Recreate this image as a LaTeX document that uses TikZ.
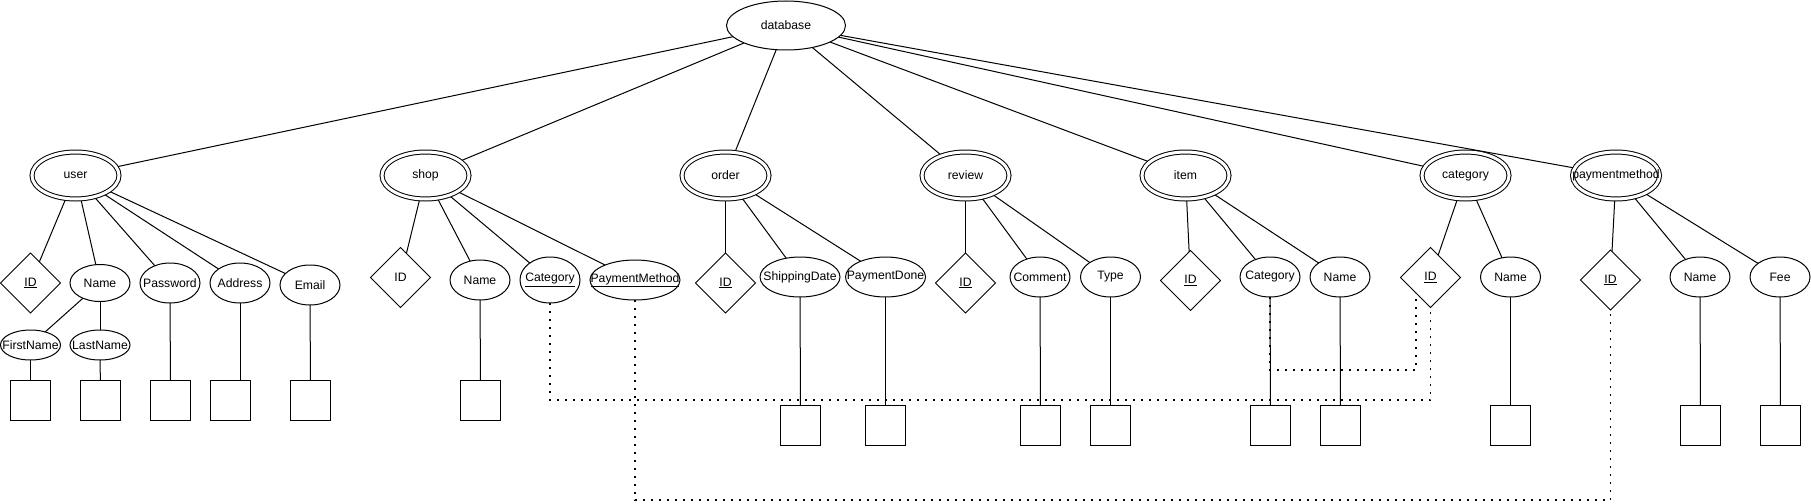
\documentclass[tikz,border=0pt]{standalone}
\usepackage{fontspec}
\setmainfont{Liberation Sans}
\usetikzlibrary{shapes.geometric,backgrounds}
\tikzset{
  every node/.style={font=\fontsize{12.2}{14}\selectfont},
  base/.style={draw, line width=1pt, fill=white, inner sep=0pt, outer sep=0pt},
  txt/.style={label={center:#1}},
  ent/.style={base, ellipse, double, double distance=3pt, minimum width=87pt, minimum height=47pt},
  attr/.style={base, ellipse},
  keyd/.style={base, diamond, minimum width=60pt, minimum height=60pt},
  valbox/.style={base, rectangle, minimum width=40pt, minimum height=40pt},
  conn/.style={line width=1pt},
  fk/.style={line width=1.6pt, dash pattern=on 1.6pt off 6.4pt},
}
\begin{document}
\begin{tikzpicture}[x=1pt,y=-1pt]
\useasboundingbox (0,0) rectangle (1811,503);
% database
\node[attr, minimum width=119pt, minimum height=49pt, txt=database] (db) at (786,25.5) {};
% entities
\node[ent, txt=user] (user) at (75.5,175.5) {};
\node[ent, txt=shop] (shop) at (425.5,175.5) {};
\node[ent, txt=order] (order) at (725.5,175.5) {};
\node[ent, txt=review] (review) at (965.5,175.5) {};
\node[ent, txt=item] (item) at (1185.5,175.5) {};
\node[ent, txt=category] (category) at (1465.5,175.5) {};
\node[ent, txt=paymentmethod] (pm) at (1616,175.5) {};
% user attributes
\node[keyd, txt=\underline{ID}] (uid) at (30.5,283) {};
\node[attr, minimum width=60pt, minimum height=37pt, txt=Name] (uname) at (100,283) {};
\node[attr, minimum width=60pt, minimum height=40pt, txt=Password] (upass) at (170,283) {};
\node[attr, minimum width=60pt, minimum height=40pt, txt=Address] (uaddr) at (240,283) {};
\node[attr, minimum width=60pt, minimum height=40pt, txt=Email] (uemail) at (310,285) {};
\node[attr, minimum width=60pt, minimum height=30pt, txt=FirstName] (ufirst) at (30.5,345) {};
\node[attr, minimum width=60pt, minimum height=30pt, txt=LastName] (ulast) at (100,345) {};
\node[valbox] (ub1) at (30.5,400.5) {};
\node[valbox] (ub2) at (100.5,400.5) {};
\node[valbox] (ub3) at (170.5,400.5) {};
\node[valbox] (ub4) at (230.5,400.5) {};
\node[valbox] (ub5) at (310.5,400.5) {};
% shop attributes
\node[keyd, txt=ID] (sid) at (400.5,277.5) {};
\node[attr, minimum width=60pt, minimum height=40pt, txt=Name] (sname) at (480,280) {};
\node[attr, minimum width=60pt, minimum height=46pt, txt=\underline{Category}] (scat) at (550,280) {};
\node[attr, minimum width=90pt, minimum height=40pt, txt=\underline{PaymentMethod}] (spm) at (635,280) {};
\node[valbox] (sb1) at (480.5,400.5) {};
% order attributes
\node[keyd, txt=\underline{ID}] (oid) at (725.5,283) {};
\node[attr, minimum width=80pt, minimum height=40pt, txt=ShippingDate] (oship) at (800,277) {};
\node[attr, minimum width=80pt, minimum height=40pt, txt=PaymentDone] (opay) at (885.5,277) {};
\node[valbox] (ob1) at (800.5,425.5) {};
\node[valbox] (ob2) at (885.5,425.5) {};
% review attributes
\node[keyd, txt=\underline{ID}] (rid) at (965.5,283) {};
\node[attr, minimum width=60pt, minimum height=40pt, txt=Comment] (rcom) at (1040,277) {};
\node[attr, minimum width=60pt, minimum height=40pt, txt=Type] (rtype) at (1110.5,277) {};
\node[valbox] (rb1) at (1040.5,425.5) {};
\node[valbox] (rb2) at (1110.5,425.5) {};
% item attributes
\node[keyd, txt=\underline{ID}] (iid) at (1190.5,280.5) {};
\node[attr, minimum width=60pt, minimum height=40pt, txt=Category] (icat) at (1270,277) {};
\node[attr, minimum width=60pt, minimum height=40pt, txt=Name] (iname) at (1340,277) {};
\node[valbox] (ib1) at (1270.5,425.5) {};
\node[valbox] (ib2) at (1340.5,425.5) {};
% category attributes
\node[keyd, txt=\underline{ID}] (cid) at (1430.5,277.5) {};
\node[attr, minimum width=60pt, minimum height=40pt, txt=Name] (cname) at (1510.5,277) {};
\node[valbox] (cb1) at (1510.5,425.5) {};
% paymentmethod attributes
\node[keyd, txt=\underline{ID}] (pmid) at (1610.5,280) {};
\node[attr, minimum width=60pt, minimum height=40pt, txt=Name] (pmname) at (1700,277) {};
\node[attr, minimum width=60pt, minimum height=40pt, txt=Fee] (pmfee) at (1780,277) {};
\node[valbox] (pb1) at (1700.5,425.5) {};
\node[valbox] (pb2) at (1780.5,425.5) {};
% helper coordinates
\coordinate (ylow) at (0,400);
\coordinate (ymid) at (0,370);
\coordinate (ybot) at (0,500);
\coordinate (cidL) at (1416,293);
\coordinate (cidLlow) at (1416,370);
\begin{pgfonlayer}{background}
\foreach \e in {user,shop,order,review,item,category,pm}
  \draw[conn] (db) -- (\e);
\foreach \a in {uid,uname,upass,uaddr,uemail} \draw[conn] (user) -- (\a);
\foreach \a in {sid,sname,scat,spm} \draw[conn] (shop) -- (\a);
\foreach \a in {oid,oship,opay} \draw[conn] (order) -- (\a);
\foreach \a in {rid,rcom,rtype} \draw[conn] (review) -- (\a);
\foreach \a in {iid,icat,iname} \draw[conn] (item) -- (\a);
\foreach \a in {cid,cname} \draw[conn] (category) -- (\a);
\foreach \a in {pmid,pmname,pmfee} \draw[conn] (pm) -- (\a);
\draw[conn] (uname) -- (ufirst);
\draw[conn] (uname) -- (ulast);
\draw[conn] (ufirst) -- (ub1);
\draw[conn] (ulast) -- (ub2);
\draw[conn] (upass) -- (ub3);
\draw[conn] (uaddr.south) -- (uaddr.south |- ub4.north);
\draw[conn] (uemail) -- (ub5);
\draw[conn] (sname) -- (sb1);
\draw[conn] (oship) -- (ob1);
\draw[conn] (opay) -- (ob2);
\draw[conn] (rcom) -- (rb1);
\draw[conn] (rtype) -- (rb2);
\draw[conn] (icat) -- (ib1);
\draw[conn] (iname) -- (ib2);
\draw[conn] (cname) -- (cb1);
\draw[conn] (pmname) -- (pb1);
\draw[conn] (pmfee) -- (pb2);
% foreign key dotted connectors
\draw[fk] (scat.south) -- (scat.south |- ylow) -- (cid.south |- ylow) -- (cid.south);
\draw[fk] (icat.south) -- (icat.south |- ymid) -- (cidLlow) -- (cidL);
\draw[fk] (spm.south) -- (spm.south |- ybot) -- (pmid.south |- ybot) -- (pmid.south);
\end{pgfonlayer}
\end{tikzpicture}
\end{document}
